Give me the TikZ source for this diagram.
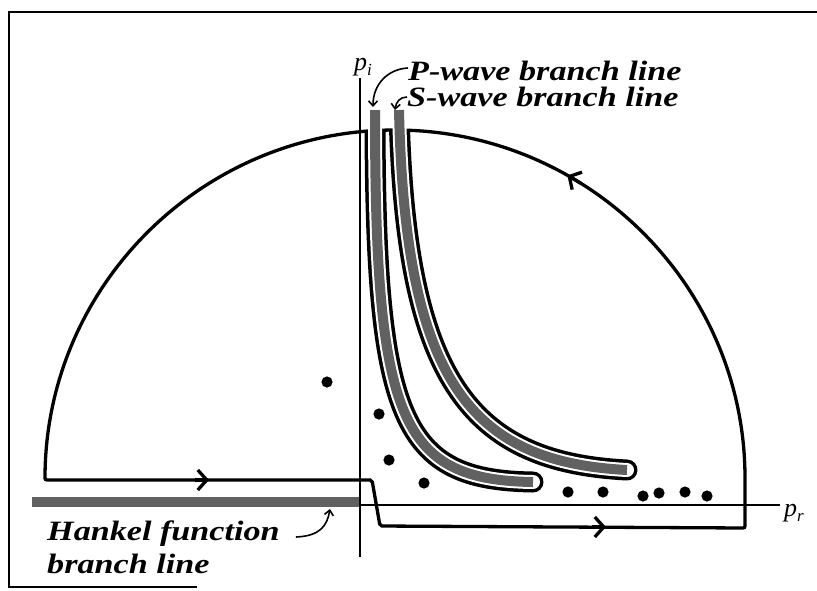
\documentclass[tikz,border=0pt]{standalone}
\usepackage{fontspec}
\usetikzlibrary{arrows.meta}
\newfontfamily\labfont[FakeStretch=1.22]{Liberation Serif}
\newfontfamily\axfont{Liberation Serif}
\begin{document}
\begin{tikzpicture}[x=1pt,y=-1pt,
  contour/.style={line width=3.3pt, line join=miter},
  axis/.style={line width=2.5pt},
  lab/.style={font=\labfont\bfseries\itshape\fontsize{28}{30}\selectfont, inner sep=0pt, anchor=base west},
  band/.style={line width=10pt, draw=black!62},
  ring/.style={line width=21pt, line cap=round},
  gap/.style={line width=14pt, line cap=round, draw=white},
  tipmark/.style={line width=3.3pt, -{Straight Barb[length=9pt,width=20pt]}},
  leader/.style={line width=1.6pt, -{Straight Barb[length=5pt,width=9pt]}},
  pole/.style={fill=black}
]
\useasboundingbox (0,0) rectangle (817,590);
% frame
\draw[line width=2.8pt] (817,12) -- (9,12) -- (9,587) -- (197,587);
% Hankel branch line
\draw[band] (32,502) -- (360,502);
% axes
\draw[axis] (360,78) -- (360,557);
\draw[axis] (360,505) -- (780,505);
% main contour
\draw[contour, rounded corners=2pt] (45,480) -- (372,480) -- (380,526) -- (745,528) -- (745,480)
   arc[start angle=0, end angle=-180, radius=350] -- cycle;
% arrows on contour
\draw[tipmark] (195,480) -- (209,480);
\draw[tipmark] (592,527) -- (606,527);
\draw[tipmark] (395,480) ++(-58:350) arc[start angle=-58, end angle=-60.5, radius=350];
% keyhole contours around branch lines
\begin{scope}
\clip (0,130) rectangle (817,590);
\draw[ring] (375,110) .. controls (375,420) and (400,480) .. (533,482);
\draw[ring] (399,110) .. controls (405,380) and (470,462) .. (627,470);
\end{scope}
\draw[gap] (375,110) .. controls (375,420) and (400,480) .. (533,482);
\draw[gap] (399,110) .. controls (405,380) and (470,462) .. (627,470);
\draw[band] (375,110) .. controls (375,420) and (400,480) .. (533,482);
\draw[band] (399,110) .. controls (405,380) and (470,462) .. (627,470);
% poles
\foreach \px/\py in {327/382, 379/414, 389/460, 424/483, 568/492, 603/492, 643/496, 659/493, 685/492, 707/496}
  \fill[pole] (\px,\py) circle[radius=5.6];
% axis labels
\node[anchor=base west, inner sep=0pt] (pi) at (354,70) {\axfont\itshape\fontsize{26}{26}\selectfont p\raisebox{-5pt}{\fontsize{17}{17}\selectfont i}};
\node[anchor=base west, inner sep=0pt] (pr) at (784,516) {\axfont\itshape\fontsize{26}{26}\selectfont p\raisebox{-5pt}{\fontsize{17}{17}\selectfont r}};
% labels
\node[lab] (pw) at (408,80) {P-wave branch line};
\node[lab] (sw) at (407,106) {S-wave branch line};
\node[lab] (hk) at (47,540) {Hankel function};
\node[lab] (bl) at (47,573) {branch line};
\coordinate (pwtip) at (373,107);
\coordinate (swtip) at (395,110);
\coordinate (hktip) at (330,509);
\draw[leader] (pw.west |- 0,68) .. controls (388,69) and (373,84) .. (pwtip);
\draw[leader] (sw.west |- 0,97) .. controls (400,97) and (396,102) .. (swtip);
\draw[leader] (hk.east |- 0,537) ++(16,0) .. controls (320,536) and (327,526) .. (hktip);
\end{tikzpicture}
\end{document}
